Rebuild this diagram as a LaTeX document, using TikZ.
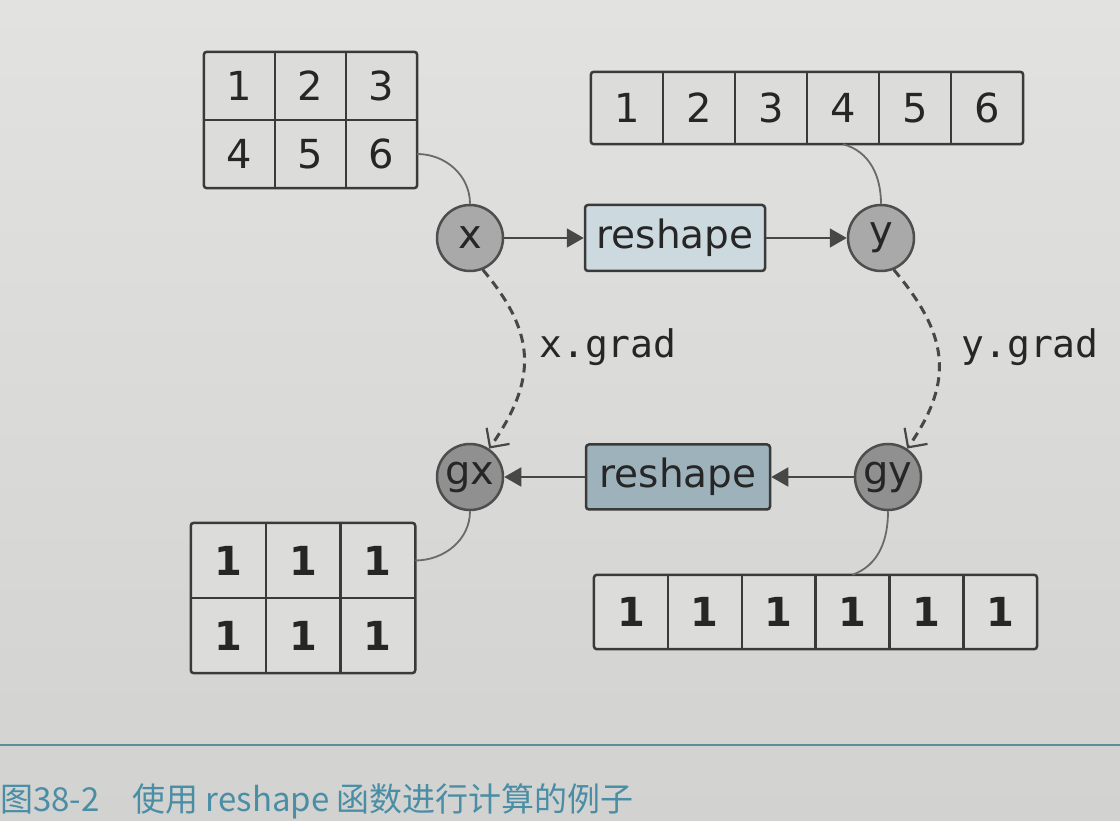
\documentclass[tikz,border=0pt]{standalone}
\usepackage{fontspec}
\setmainfont{DejaVu Sans}
\newfontfamily\monof{DejaVu Sans Mono}
\newfontfamily\cjkf{Noto Sans CJK SC}
\usetikzlibrary{arrows.meta,fit,backgrounds}
\definecolor{papertop}{HTML}{E2E2E0}
\definecolor{paperbot}{HTML}{D2D2D0}
\definecolor{ink}{HTML}{262626}
\definecolor{frame}{HTML}{3A3A3A}
\definecolor{cellfill}{HTML}{DCDCDB}
\definecolor{circA}{HTML}{A9A9A9}
\definecolor{circB}{HTML}{909090}
\definecolor{boxA}{HTML}{CCDAE0}
\definecolor{boxB}{HTML}{9DB2BB}
\definecolor{connc}{HTML}{6A6A6A}
\definecolor{arrc}{HTML}{474747}
\definecolor{teal}{HTML}{4A8EA6}
\definecolor{rulec}{HTML}{5E8E99}
\tikzset{
  cellbase/.style={inner sep=0pt,text=ink,font=\fontsize{40}{48}\selectfont},
  cellA/.style={cellbase,minimum width=71pt,minimum height=68pt},
  cellB/.style={cellbase,minimum width=72pt,minimum height=72pt},
  cellC/.style={cellbase,minimum width=74.7pt,minimum height=75pt,font=\fontsize{40}{48}\bfseries\selectfont},
  cellD/.style={cellbase,minimum width=73.8pt,minimum height=74pt,font=\fontsize{40}{48}\bfseries\selectfont},
  gridframe/.style={draw=frame,line width=2.5pt,rounded corners=3pt,fill=cellfill,inner sep=0pt},
  gridline/.style={draw=frame,line width=2.5pt},
  varA/.style={circle,draw=frame!90,line width=2.5pt,fill=circA,minimum size=66pt,inner sep=0pt,text=ink,font=\fontsize{40}{48}\selectfont},
  varB/.style={varA,fill=circB},
  funcbox/.style={rectangle,draw=frame,line width=2.5pt,rounded corners=3pt,minimum width=180pt,minimum height=66pt,inner sep=0pt,text=ink,font=\fontsize{39}{46}\selectfont},
  conn/.style={draw=connc,line width=1.8pt},
  flow/.style={draw=arrc,line width=1.8pt,-{Triangle[length=17pt,width=19pt]}},
  grad/.style={draw=arrc,line width=3pt,dash pattern=on 9pt off 6pt,-{Straight Barb[length=14pt,width=28pt,line width=2.2pt]}},
  gradlabel/.style={text=ink,font=\monof\fontsize{38}{46}\selectfont,inner sep=0pt}
}
\begin{document}
\begin{tikzpicture}[x=1pt,y=1pt]
\useasboundingbox (0,0) rectangle (1120,820);
\begin{scope}[on background layer]
\shade[top color=papertop,bottom color=paperbot] (0,0) rectangle (1120,820);
\end{scope}

% top-left grid (x data)
\node[cellA] (tl11) at (239.5,734) {1};
\node[cellA] (tl12) at (310.5,734) {2};
\node[cellA] (tl13) at (381.5,734) {3};
\node[cellA] (tl21) at (239.5,666) {4};
\node[cellA] (tl22) at (310.5,666) {5};
\node[cellA] (tl23) at (381.5,666) {6};

% top-right row (y data)
\node[cellB] (tr1) at (627,712) {1};
\node[cellB] (tr2) at (699,712) {2};
\node[cellB] (tr3) at (771,712) {3};
\node[cellB] (tr4) at (843,712) {4};
\node[cellB] (tr5) at (915,712) {5};
\node[cellB] (tr6) at (987,712) {6};

% bottom-left grid (gx data)
\node[cellC] (bl11) at (228.3,259.5) {1};
\node[cellC] (bl12) at (303,259.5) {1};
\node[cellC] (bl13) at (377.7,259.5) {1};
\node[cellC] (bl21) at (228.3,184.5) {1};
\node[cellC] (bl22) at (303,184.5) {1};
\node[cellC] (bl23) at (377.7,184.5) {1};

% bottom-right row (gy data)
\node[cellD] (br1) at (631,208) {1};
\node[cellD] (br2) at (704.8,208) {1};
\node[cellD] (br3) at (778.6,208) {1};
\node[cellD] (br4) at (852.4,208) {1};
\node[cellD] (br5) at (926.2,208) {1};
\node[cellD] (br6) at (1000,208) {1};

\begin{scope}[on background layer]
  \node[gridframe,fit=(tl11)(tl23)] (tlframe) {};
  \node[gridframe,fit=(tr1)(tr6)] (trframe) {};
  \node[gridframe,fit=(bl11)(bl23)] (blframe) {};
  \node[gridframe,fit=(br1)(br6)] (brframe) {};
\end{scope}

% inner grid lines
\draw[gridline] (tl11.north east) -- (tl21.south east);
\draw[gridline] (tl12.north east) -- (tl22.south east);
\draw[gridline] (tl11.south west) -- (tl13.south east);
\foreach \i in {1,...,5} {\draw[gridline] (tr\i.north east) -- (tr\i.south east);}
\draw[gridline] (bl11.north east) -- (bl21.south east);
\draw[gridline] (bl12.north east) -- (bl22.south east);
\draw[gridline] (bl11.south west) -- (bl13.south east);
\foreach \i in {1,...,5} {\draw[gridline] (br\i.north east) -- (br\i.south east);}

% variables and functions
\node[varA] (x) at (470,582) {x};
\node[varA] (y) at (881,582) {y};
\node[varB] (gx) at (470,343) {gx};
\node[varB] (gy) at (888,343) {gy};
\node[funcbox,fill=boxA] (f1) at (675,582) {reshape};
\node[funcbox,fill=boxB,minimum width=184pt,minimum height=65pt] (f2) at (678,343) {reshape};

% data connectors
\draw[conn] (tl23.east) to[out=0,in=90] (x.north);
\draw[conn] (tr4.south) to[out=-15,in=90] (y.north);
\draw[conn] (bl13.east) to[out=0,in=-90] (gx.south);
\draw[conn] (gy.south) to[out=-90,in=20] (br4.north);

% forward flow
\draw[flow] (x.east) -- (f1.west);
\draw[flow] (f1.east) -- (y.west);
% backward flow
\draw[flow] (gy.west) -- (f2.east);
\draw[flow] (f2.west) -- (gx.east);

% gradients
\draw[grad] (x.-68) to[out=-50,in=55,looseness=1.2] (gx.56);
\draw[grad] (y.-68) to[out=-50,in=55,looseness=1.2] (gy.56);
\node[gradlabel] (xg) at (608,473) {x.grad};
\node[gradlabel] (yg) at (1030,473) {y.grad};

% caption rule and caption
\coordinate (ruleL) at (0,75);
\coordinate (ruleR) at (1120,75);
\draw[draw=rulec,line width=2pt] (ruleL) -- (ruleR);
\node[anchor=base west,inner sep=0pt,text=teal,font=\cjkf\fontsize{33}{40}\selectfont] (cap) at (0,9) {图38-2\quad 使用 reshape 函数进行计算的例子};
\end{tikzpicture}
\end{document}
